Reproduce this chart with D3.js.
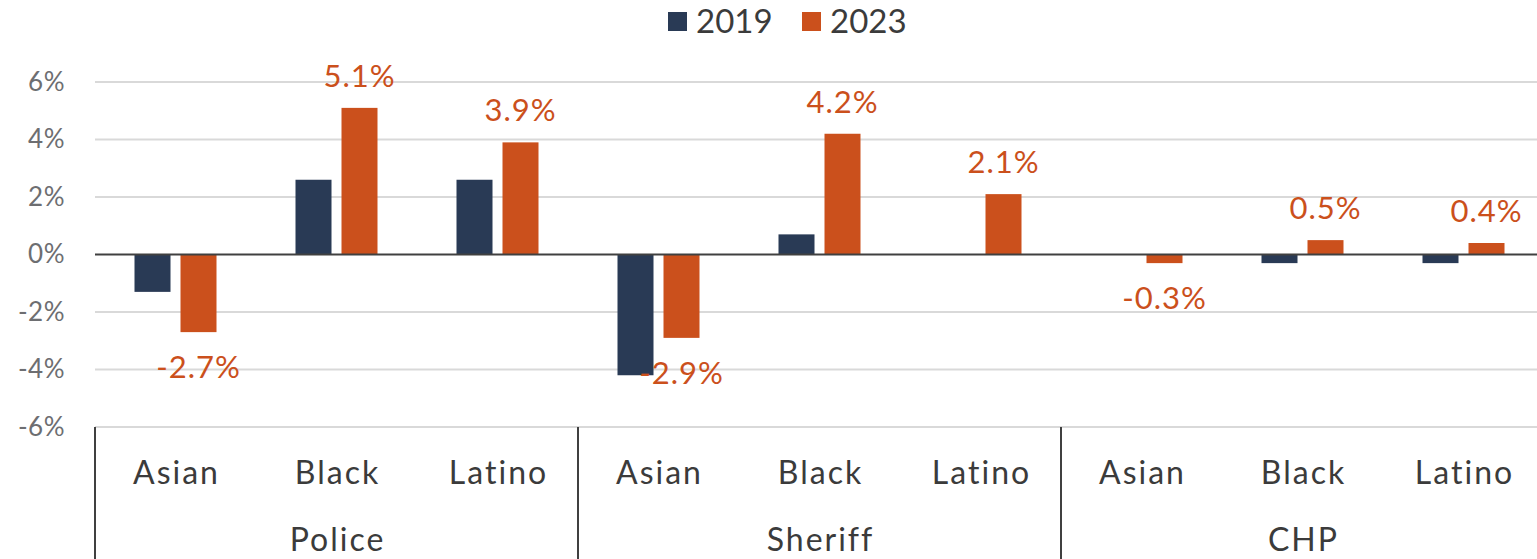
<!DOCTYPE html>
<html><head><meta charset="utf-8">
<script src="https://cdn.jsdelivr.net/npm/d3@7"></script>
<style>body{margin:0;background:#fff;overflow:hidden}svg{display:block}text{font-family:Lato,"Open Sans",sans-serif}</style>
</head><body><svg id="c" width="1537" height="559"></svg>
<script>
const groups = ["Police","Sheriff","CHP"];
const races = ["Asian","Black","Latino"];
const seriesNames = ["2019","2023"];
const values2019 = [-1.3, 2.6, 2.6, -4.2, 0.7, 0, 0, -0.3, -0.3];
const values2023 = [-2.7, 5.1, 3.9, -2.9, 4.2, 2.1, -0.3, 0.5, 0.4];
const labels2023 = ["-2.7%","5.1%","3.9%","-2.9%","4.2%","2.1%","-0.3%","0.5%","0.4%"];
const yTicks = [-6,-4,-2,0,2,4,6];
const colors = {"2019":"#293A55","2023":"#CB501C"};

(function(){
const svg = d3.select("#c");
const mLeft = 95, mRight = 1544, mTop = 82, mBottom = 427;
const cats = [];
groups.forEach(g => races.forEach(r => cats.push(g + "|" + r)));
const x = d3.scaleBand().domain(cats).range([mLeft, mRight]);
const xi = d3.scaleBand().domain(seriesNames).range([39.5, 121.5]).paddingInner(10/46).paddingOuter(0);
const y = d3.scaleLinear().domain([-6, 6]).range([mBottom, mTop]);

svg.append("g").selectAll("line").data(yTicks.filter(t => t !== 0)).join("line")
  .attr("x1", mLeft).attr("x2", mRight).attr("y1", d => y(d)).attr("y2", d => y(d))
  .attr("stroke", "#d9d9d9").attr("stroke-width", 2);

const yAxis = d3.axisLeft(y).tickValues(yTicks).tickFormat(d => d + "%").tickSize(0).tickPadding(30);
const ya = svg.append("g").attr("transform", `translate(${mLeft},0)`).call(yAxis);
ya.select(".domain").remove();
ya.selectAll("text").attr("font-size", 26).attr("fill", "#6d6e71").attr("font-family", "Lato").attr("letter-spacing", 0.5);

const data = [];
cats.forEach((c, i) => {
  data.push({c, s: "2019", v: values2019[i]});
  data.push({c, s: "2023", v: values2023[i], label: labels2023[i]});
});
svg.append("g").selectAll("rect").data(data.filter(d => d.v !== 0)).join("rect")
  .attr("x", d => x(d.c) + xi(d.s)).attr("width", xi.bandwidth())
  .attr("y", d => y(Math.max(0, d.v))).attr("height", d => Math.abs(y(d.v) - y(0)))
  .attr("fill", d => colors[d.s]);

svg.append("line").attr("x1", mLeft).attr("x2", mRight).attr("y1", y(0)).attr("y2", y(0))
  .attr("stroke", "#404040").attr("stroke-width", 2);

svg.append("g").selectAll("text").data(data.filter(d => d.label)).join("text")
  .attr("x", d => x(d.c) + xi(d.s) + xi.bandwidth()/2)
  .attr("y", d => d.v >= 0 ? y(d.v) - 21 : y(d.v) + 46)
  .attr("text-anchor", "middle").attr("font-size", 31).attr("letter-spacing", 1).attr("fill", "#CB501C")
  .text(d => d.label);

svg.append("g").selectAll("text").data(cats).join("text")
  .attr("x", d => x(d) + x.bandwidth()/2 + 1).attr("y", 484)
  .attr("text-anchor", "middle").attr("font-size", 32).attr("letter-spacing", 2).attr("fill", "#3b3b3b")
  .text(d => d.split("|")[1]);

svg.append("g").selectAll("text").data(groups).join("text")
  .attr("x", g => (x(g + "|" + races[0]) + x(g + "|" + races[2]) + x.bandwidth()) / 2 + 1).attr("y", 551)
  .attr("text-anchor", "middle").attr("font-size", 32).attr("letter-spacing", 2).attr("fill", "#3b3b3b")
  .text(d => d);

const seps = groups.map(g => x(g + "|" + races[0])).concat([mRight]);
svg.append("g").selectAll("line").data(seps).join("line")
  .attr("x1", d => d).attr("x2", d => d).attr("y1", mBottom).attr("y2", 559)
  .attr("stroke", "#404040").attr("stroke-width", 2);

const leg = svg.append("g");
const legX = [668, 802];
seriesNames.forEach((s, i) => {
  leg.append("rect").attr("x", legX[i]).attr("y", 12).attr("width", 19).attr("height", 19).attr("fill", colors[s]);
  leg.append("text").attr("x", legX[i] + 28).attr("y", 33).attr("font-size", 33).attr("fill", "#3b3b3b").text(s);
});
})();
</script></body></html>
